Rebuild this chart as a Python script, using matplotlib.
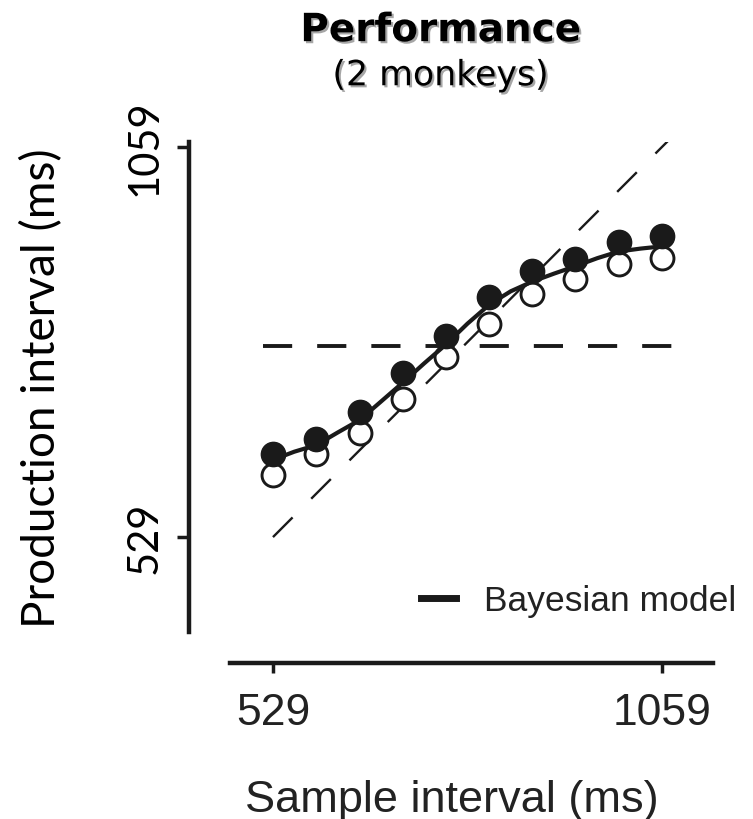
import matplotlib
matplotlib.use("Agg")
import matplotlib.pyplot as plt
import matplotlib.patheffects as pe
from matplotlib.lines import Line2D

plt.rcParams['lines.scale_dashes'] = False

# sample intervals (ms)
sample_ms = [529, 588, 647, 706, 765, 824, 882, 941, 1000, 1059]
# production intervals, monkey 1 (filled) and monkey 2 (open)
prod_filled = [642, 662, 699, 752, 802, 855, 890, 907, 930, 938]
prod_open = [614, 642, 671, 716, 774, 818, 859, 880, 900, 908]

# Bayesian model prediction, sampled at half steps
model_x = [529, 558, 588, 617, 647, 676, 706, 735, 765, 794,
           824, 853, 882, 912, 941, 971, 1000, 1030, 1059]
model_y = [634, 645, 654, 671, 688, 713, 739, 765, 791, 819,
           845, 863, 876, 887, 897, 908, 917, 921, 924]

prior_mean = 788
unity = [529, 1070]
hline_x = [515, 1077]

ticks = [529, 1059]
ink = '#1a1a1a'

fig = plt.figure(figsize=(7.53, 8.2), dpi=100)
ax = fig.add_axes([0.3054, 0.2280, 0.6414, 0.5976])

ax.plot(unity, unity, color=ink, lw=1.7, dashes=(20, 19), zorder=1)
ax.plot(hline_x, [prior_mean, prior_mean], color=ink, lw=2.8, dashes=(21, 18), zorder=1)

ax.plot(sample_ms, prod_open, 'o', ms=16.5, mfc='white', mec=ink, mew=2.1, zorder=2)
ax.plot(model_x, model_y, color=ink, lw=3.0, zorder=3, solid_capstyle='round')
ax.plot(sample_ms, prod_filled, 'o', ms=17.5, mfc=ink, mec=ink, zorder=4)

ax.set_xlim(470.4, 1128.5)
ax.set_ylim(400, 1065.8)

for side in ['top', 'right']:
    ax.spines[side].set_visible(False)
ax.spines['left'].set_position(('outward', 29.5))
ax.spines['bottom'].set_position(('outward', 22.3))
for side in ['left', 'bottom']:
    ax.spines[side].set_linewidth(3.2)
    ax.spines[side].set_color(ink)

ax.set_xticks(ticks)
ax.set_yticks(ticks)
ax.set_xticklabels([str(t) for t in ticks], fontsize=32, family='Liberation Sans', color='#222222')
ax.set_yticklabels([str(t) for t in ticks], fontsize=30, family='Lato', rotation=90, va='center')
ax.tick_params(axis='x', length=7, width=2.5, pad=14, color=ink)
ax.tick_params(axis='y', length=9, width=2.5, pad=9, color=ink)

ax.set_xlabel('Sample interval (ms)', fontsize=32.5, family='Liberation Sans', color='#222222')
ax.xaxis.set_label_coords(0.46, -0.30)
ax.set_ylabel('Production interval (ms)', fontsize=33, family='Lato')
ax.yaxis.set_label_coords(-0.345, 0.5)

leg = ax.legend(handles=[Line2D([], [], color=ink, lw=5)], labels=['Bayesian model'],
                loc='lower right', bbox_to_anchor=(1.115, -0.035), frameon=False,
                handlelength=1.0, handletextpad=0.8,
                prop={'family': 'Liberation Sans', 'size': 25.5})
for t in leg.get_texts():
    t.set_color('#222222')

shadow = [pe.SimplePatchShadow(offset=(1.5, -1.5), alpha=0.35), pe.Normal()]
fig.text(0.585, 0.962, 'Performance', ha='center', va='center', fontsize=28,
         fontweight='bold', family='DejaVu Sans', path_effects=shadow)
fig.text(0.585, 0.907, '(2 monkeys)', ha='center', va='center', fontsize=25,
         family='DejaVu Sans', path_effects=shadow)

fig.savefig('out.png', dpi=100)
